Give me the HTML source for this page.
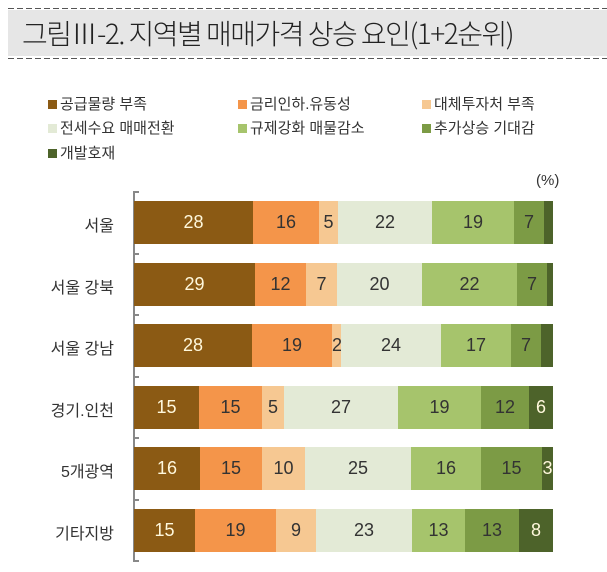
<!DOCTYPE html>
<html><head><meta charset="utf-8"><style>
body{margin:0;width:607px;height:572px;background:#fff;font-family:"Liberation Sans","Noto Sans CJK KR",sans-serif;position:relative;overflow:hidden}
.t{position:absolute;left:8px;top:10px;width:599px;height:46px;background:#e6e6e6}
.dl{position:absolute;left:8px;width:599px;height:1px;background:repeating-linear-gradient(90deg,#555 0 6px,transparent 6px 9px)}
.title{position:absolute;left:22px;top:13px;font-size:28px;color:#222;letter-spacing:-1.5px;font-family:"Noto Sans CJK KR",sans-serif;font-weight:300}
.lg{position:absolute;font-size:15px;color:#333}
.lg i{display:inline-block;width:9px;height:9px;margin-right:3px;vertical-align:0}
.lab{position:absolute;right:493px;font-size:16px;color:#333;text-align:right;white-space:nowrap}
.seg{position:absolute;height:43px;line-height:43px;text-align:center;font-size:18px;color:#333;overflow:hidden}
.ax{position:absolute;left:133px;top:191px;width:2px;height:370px;background:#888}
.tk{position:absolute;left:133px;width:6px;height:2px;background:#888}
</style></head><body>
<div class="t"></div>
<div class="dl" style="top:8px"></div><div class="dl" style="top:58px"></div>
<div class="title">그림Ⅲ-2. 지역별 매매가격 상승 요인(1+2순위)</div>
<div class="lg" style="left:48px;top:93px"><i style="background:#8b5a14"></i>공급물량 부족</div>
<div class="lg" style="left:238px;top:93px"><i style="background:#f4954a"></i>금리인하.유동성</div>
<div class="lg" style="left:422px;top:93px"><i style="background:#f6c892"></i>대체투자처 부족</div>
<div class="lg" style="left:48px;top:117px"><i style="background:#e3ead6"></i>전세수요 매매전환</div>
<div class="lg" style="left:238px;top:117px"><i style="background:#a6c46c"></i>규제강화 매물감소</div>
<div class="lg" style="left:422px;top:117px"><i style="background:#7c9b45"></i>추가상승 기대감</div>
<div class="lg" style="left:48px;top:142px"><i style="background:#4d632a"></i>개발호재</div>
<div class="lg" style="left:536px;top:172px">(%)</div>
<div class="ax"></div>
<div id="c"></div>
<script>
var C=["#8b5a14","#f4954a","#f6c892","#e3ead6","#a6c46c","#7c9b45","#4d632a"];
var R=[["서울",[134,253,319,338,432,514,544,553],[28,16,5,22,19,7,""]],
["서울 강북",[134,255,306,337,422,517,547,553],[29,12,7,20,22,7,""]],
["서울 강남",[134,252,332,341,441,511,541,553],[28,19,2,24,17,7,""]],
["경기.인천",[134,199,262,284,398,481,529,553],[15,15,5,27,19,12,6]],
["5개광역",[134,200,262,305,411,481,542,553],[16,15,10,25,16,15,3]],
["기타지방",[134,195,276,316,412,465,519,553],[15,19,9,23,13,13,8]]];
var h="";
for(var i=0;i<6;i++){var y=201+i*61.5;var r=R[i];
h+='<div class="tk" style="top:'+(y-10)+'px"></div>';
h+='<div class="lab" style="top:'+(y+11)+'px">'+r[0]+'</div>';
for(var j=0;j<7;j++){var x=r[1][j],w=r[1][j+1]-x;
var col=(j==0||j==6)?"#fff8dc":"#333";
h+='<div class="seg" style="left:'+x+'px;top:'+y+'px;width:'+w+'px;background:'+C[j]+';color:'+col+'">'+r[2][j]+'</div>';}}
h+='<div class="tk" style="top:'+(201+6*61.5-10)+'px"></div>';
document.getElementById("c").innerHTML=h;
</script>
</body></html>
